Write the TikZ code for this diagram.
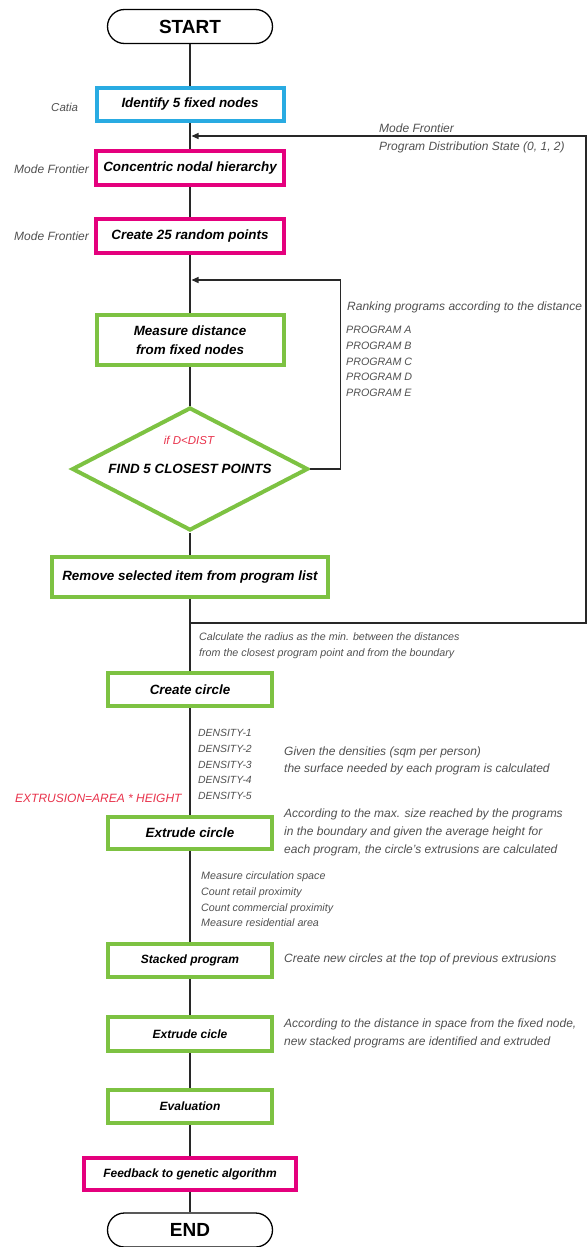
\documentclass[tikz,border=0pt]{standalone}
\usepackage{fontspec}
\setmainfont{Liberation Sans}
\usetikzlibrary{shapes.geometric,arrows.meta}
\definecolor{cgreen}{RGB}{125,194,66}
\definecolor{cmag}{RGB}{228,0,125}
\definecolor{cblue}{RGB}{41,171,226}
\definecolor{cgray}{RGB}{80,80,80}
\definecolor{cred}{RGB}{232,50,75}
\definecolor{cline}{RGB}{40,40,40}
\begin{document}
\begin{tikzpicture}[x=1pt,y=-1pt,
  flowbox/.style={draw, line width=4pt, rectangle, inner sep=0pt, align=center, text=black,
    font=\bfseries\itshape\fontsize{13.4}{19}\selectfont},
  gbox/.style={flowbox, draw=cgreen},
  mbox/.style={flowbox, draw=cmag},
  bbox/.style={flowbox, draw=cblue},
  smalltxt/.style={font=\bfseries\itshape\fontsize{12}{14}\selectfont},
  term/.style={draw=black, line width=1.3pt, rounded corners=17pt, minimum width=165pt,
    minimum height=34pt, inner sep=0pt, font=\bfseries\fontsize{19}{22}\selectfont},
  note/.style={text=cgray, font=\itshape\fontsize{12}{17}\selectfont, anchor=west, align=left, inner sep=0pt},
  smallnote/.style={note, font=\itshape\fontsize{10.7}{15.8}\selectfont},
  rednote/.style={text=cred, font=\itshape\fontsize{12}{14}\selectfont, inner sep=0pt},
  conn/.style={draw=cline, line width=1.3pt},
  arr/.style={conn, -{Triangle[length=7pt,width=6pt]}},
]
\useasboundingbox (0,0) rectangle (588,1247);

% main nodes
\node[term] (start) at (190,26.5) {START};
\node[bbox, minimum width=187pt, minimum height=33pt] (ident) at (190,104.5) {Identify 5 fixed nodes};
\node[mbox, minimum width=188pt, minimum height=34pt] (conc) at (190,168) {Concentric nodal hierarchy};
\node[mbox, minimum width=188pt, minimum height=34pt] (rand) at (190,236) {Create 25 random points};
\node[gbox, minimum width=187pt, minimum height=50pt] (meas) at (190,340) {Measure distance\\from fixed nodes};
\node[draw=cgreen, line width=4pt, diamond, aspect=1.92, minimum width=236pt, minimum height=123pt,
  inner sep=0pt, text=black, font=\bfseries\itshape\fontsize{13.4}{16}\selectfont] (dia) at (190,469) {FIND 5 CLOSEST POINTS};
\node[gbox, minimum width=276pt, minimum height=40pt] (rem) at (190,577) {Remove selected item from program list};
\node[gbox, minimum width=164pt, minimum height=33pt] (circ) at (190,689.5) {Create circle};
\node[gbox, minimum width=164pt, minimum height=32pt] (ext) at (190,833) {Extrude circle};
\node[gbox, smalltxt, minimum width=164pt, minimum height=33pt] (stk) at (190,960.5) {Stacked program};
\node[gbox, smalltxt, minimum width=164pt, minimum height=34pt] (ext2) at (190,1034) {Extrude cicle};
\node[gbox, smalltxt, minimum width=164pt, minimum height=33pt] (eval) at (190,1106.5) {Evaluation};
\node[mbox, smalltxt, minimum width=212pt, minimum height=32pt] (fb) at (190,1174) {Feedback to genetic algorithm};
\node[term] (end) at (190,1230) {END};

% main connectors
\draw[conn] (start) -- (ident);
\draw[conn] (ident) -- (conc);
\draw[conn] (conc) -- (rand);
\draw[conn] (rand) -- (meas);
\draw[conn] (meas) -- (dia);
\draw[conn] (dia) -- (rem);
\draw[conn] (rem) -- (circ);
\draw[conn] (circ) -- (ext);
\draw[conn] (ext) -- (stk);
\draw[conn] (stk) -- (ext2);
\draw[conn] (ext2) -- (eval);
\draw[conn] (eval) -- (fb);
\draw[conn] (fb) -- (end);

% outer loop
\coordinate (j2) at (190,623);
\coordinate (rt2) at (586,623);
\coordinate (rt1) at (586,136);
\coordinate (j1) at (191.5,136);
\draw[arr] (j2) -- (rt2) -- (rt1) -- (j1);

% inner loop
\coordinate (il2) at (340.5,469);
\coordinate (il1) at (340.5,280);
\coordinate (j3) at (191.5,280);
\draw[arr] (dia.east) -- (il2) -- (il1) -- (j3);

% labels
\node[note, font=\itshape\fontsize{11.5}{14}\selectfont] (lcatia) at (51,107) {Catia};
\node[note] (lmf1) at (14,169) {Mode Frontier};
\node[note] (lmf2) at (14,236) {Mode Frontier};
\node[note] (lmf3) at (379,128) {Mode Frontier};
\node[note] (lpds) at (379,147) {Program Distribution State (0, 1, 2)};
\node[note] (lrank) at (347,307) {Ranking programs according to the distance};
\node[smallnote] (lprog) at (346,361.5) {PROGRAM A\\PROGRAM B\\PROGRAM C\\PROGRAM D\\PROGRAM E};
\node[rednote, font=\itshape\fontsize{11.5}{14}\selectfont] (lif) at (189,440) {if D<DIST};
\node[smallnote, font=\itshape\fontsize{10.7}{16}\selectfont] (lcalc) at (199,646) {Calculate the radius as the min. between the distances\\from the closest program point and from the boundary};
\node[smallnote, font=\itshape\fontsize{10.4}{15.75}\selectfont] (lden) at (198,764.5) {DENSITY-1\\DENSITY-2\\DENSITY-3\\DENSITY-4\\DENSITY-5};
\node[note] (lgiven) at (284,760.5) {Given the densities (sqm per person)\\the surface needed by each program is calculated};
\node[rednote, anchor=west] (lextr) at (15,798) {EXTRUSION=AREA * HEIGHT};
\node[note, font=\itshape\fontsize{12}{18}\selectfont] (lacc) at (284,832) {According to the max. size reached by the programs\\in the boundary and given the average height for\\each program, the circle’s extrusions are calculated};
\node[smallnote, font=\itshape\fontsize{10.7}{15.7}\selectfont] (lmeas) at (201,899.5) {Measure circulation space\\Count retail proximity\\Count commercial proximity\\Measure residential area};
\node[note] (lnew) at (284,959) {Create new circles at the top of previous extrusions};
\node[note, font=\itshape\fontsize{12}{17.5}\selectfont] (lacc2) at (284,1033.5) {According to the distance in space from the fixed node,\\new stacked programs are identified and extruded};
\end{tikzpicture}
\end{document}
